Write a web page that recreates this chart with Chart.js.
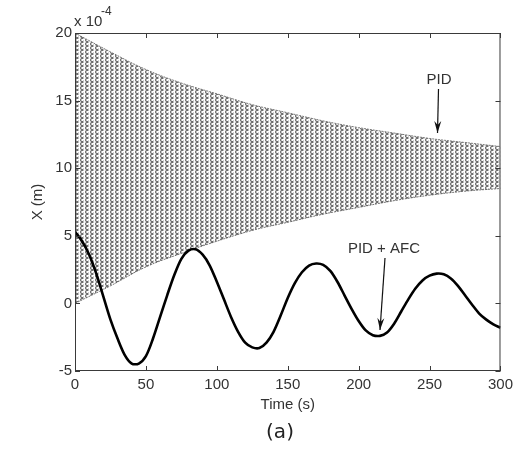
<!DOCTYPE html>
<html>
<head>
<meta charset="utf-8">
<script src="https://cdn.jsdelivr.net/npm/chart.js@4"></script>
<style>
  html, body { margin: 0; padding: 0; background: #fff; }
  #c { display: block; }
</style>
</head>
<body>
<canvas id="c" width="518" height="449"></canvas>
<script>
// data (values in units of 1e-4 m)
const envTime = [0, 25, 50, 75, 100, 125, 150, 175, 200, 225, 250, 275, 300];
const pidUpper = [20.0, 18.6, 17.3, 16.3, 15.5, 14.7, 14.1, 13.5, 13.0, 12.6, 12.2, 11.9, 11.6];
const pidLower = [0.0, 1.3, 2.7, 3.7, 4.6, 5.4, 6.0, 6.6, 7.1, 7.6, 8.0, 8.3, 8.5];

const afcTime = [0, 5, 10, 15, 20, 25, 30, 35, 40, 45, 50, 55, 60, 65, 70, 75, 80, 85, 90, 95,
                 100, 105, 110, 115, 120, 125, 130, 135, 140, 145, 150, 155, 160, 165, 170, 175, 180, 185, 190, 195,
                 200, 205, 210, 215, 220, 225, 230, 235, 240, 245, 250, 255, 260, 265, 270, 275, 280, 285, 290, 295, 300];
const afcValue = [5.3, 4.6, 3.6, 2.2, 0.5, -1.2, -2.6, -3.8, -4.45, -4.45, -3.9, -2.6, -1.0, 0.6, 2.1, 3.3, 3.9, 4.0, 3.6, 2.8,
                  1.6, 0.3, -1.0, -2.1, -2.9, -3.25, -3.3, -2.9, -2.1, -0.9, 0.4, 1.5, 2.3, 2.8, 2.95, 2.85, 2.4, 1.6, 0.6, -0.4,
                  -1.3, -2.0, -2.35, -2.4, -2.15, -1.5, -0.6, 0.3, 1.1, 1.7, 2.05, 2.2, 2.15, 1.85, 1.3, 0.6, -0.1, -0.75, -1.2, -1.55, -1.8];

const xTicks = [0, 50, 100, 150, 200, 250, 300];
const yTicks = [-5, 0, 5, 10, 15, 20];

// ====================================
// HATCH PATTERN FOR THE PID BAND
// ====================================

const pc = document.createElement("canvas");
pc.width = 5;
pc.height = 4;
const pctx = pc.getContext("2d");
pctx.strokeStyle = "#555";
pctx.lineWidth = 1.1;
pctx.beginPath();
pctx.moveTo(0, 0.5);
pctx.lineTo(3, 2);
pctx.lineTo(0, 3.5);
pctx.stroke();
pctx.fillStyle = "rgba(120,120,120,0.35)";
pctx.fillRect(3, 0, 1, 1);
const hatch = document.getElementById("c").getContext("2d").createPattern(pc, "repeat");

const textFont = "'Liberation Sans', Arial, sans-serif";

// ====================================
// BOX, INWARD TICKS, ANNOTATIONS
// ====================================

const decor = {
    id: "decor",
    afterDraw(chart) {
        const ctx = chart.ctx;
        const a = chart.chartArea;
        const xs = chart.scales.x;
        const ys = chart.scales.y;

        ctx.save();
        ctx.strokeStyle = "#3a3a3a";
        ctx.lineWidth = 1;
        ctx.strokeRect(a.left + 0.5, a.top + 0.5, a.right - a.left - 1, a.bottom - a.top - 1);

        ctx.beginPath();
        xTicks.forEach(v => {
            const px = Math.round(xs.getPixelForValue(v)) + 0.5;
            ctx.moveTo(px, a.bottom); ctx.lineTo(px, a.bottom - 5);
            ctx.moveTo(px, a.top); ctx.lineTo(px, a.top + 5);
        });
        yTicks.forEach(v => {
            const py = Math.round(ys.getPixelForValue(v)) + 0.5;
            ctx.moveTo(a.left, py); ctx.lineTo(a.left + 5, py);
            ctx.moveTo(a.right, py); ctx.lineTo(a.right - 5, py);
        });
        ctx.stroke();

        // exponent
        ctx.fillStyle = "#333";
        ctx.textBaseline = "alphabetic";
        ctx.textAlign = "left";
        ctx.font = "15px " + textFont;
        ctx.fillText("x 10", a.left - 1, 26);
        ctx.font = "12px " + textFont;
        ctx.fillText("-4", a.left + 26, 15);

        // labels and arrows
        ctx.font = "15px " + textFont;
        ctx.textAlign = "center";
        ctx.textBaseline = "middle";
        ctx.fillText("PID", 439, 80);
        ctx.fillText("PID + AFC", 384, 249);

        const arrow = (x1, y1, x2, y2) => {
            ctx.strokeStyle = "#111";
            ctx.fillStyle = "#111";
            ctx.lineWidth = 1.2;
            ctx.beginPath();
            ctx.moveTo(x1, y1);
            ctx.lineTo(x2, y2);
            ctx.stroke();
            const ang = Math.atan2(y2 - y1, x2 - x1);
            ctx.beginPath();
            ctx.moveTo(x2, y2);
            ctx.lineTo(x2 - 12 * Math.cos(ang) + 3.5 * Math.sin(ang), y2 - 12 * Math.sin(ang) - 3.5 * Math.cos(ang));
            ctx.lineTo(x2 - 8 * Math.cos(ang), y2 - 8 * Math.sin(ang));
            ctx.lineTo(x2 - 12 * Math.cos(ang) - 3.5 * Math.sin(ang), y2 - 12 * Math.sin(ang) + 3.5 * Math.cos(ang));
            ctx.closePath();
            ctx.fill();
        };
        arrow(438.5, 89, 437.5, 133);
        arrow(385, 258, 380, 330);

        // panel label
        ctx.fillStyle = "#222";
        ctx.font = "20px 'DejaVu Sans', sans-serif";
        ctx.fillText("(a)", 280, 433);
        ctx.restore();
    }
};

// ====================================
// CHART
// ====================================

const toPts = (t, v) => t.map((x, i) => ({ x: x, y: v[i] }));

new Chart(document.getElementById("c"), {
    type: "line",
    data: {
        datasets: [
            {
                label: "PID upper",
                data: toPts(envTime, pidUpper),
                borderColor: "#777",
                borderWidth: 1,
                borderDash: [2, 1],
                backgroundColor: hatch,
                fill: "+1",
                pointRadius: 0,
                tension: 0.4,
                order: 2
            },
            {
                label: "PID lower",
                data: toPts(envTime, pidLower),
                borderColor: "#777",
                borderWidth: 1,
                borderDash: [2, 1],
                fill: false,
                pointRadius: 0,
                tension: 0.4,
                order: 2
            },
            {
                label: "PID + AFC",
                data: toPts(afcTime, afcValue),
                borderColor: "#000",
                borderWidth: 2.6,
                fill: false,
                pointRadius: 0,
                tension: 0.3,
                order: 0
            }
        ]
    },
    options: {
        responsive: false,
        animation: false,
        layout: { padding: { left: 0, top: 33, right: 13, bottom: 0 } },
        plugins: {
            legend: { display: false },
            tooltip: { enabled: false }
        },
        scales: {
            x: {
                type: "linear",
                min: 0,
                max: 300,
                afterBuildTicks: s => { s.ticks = xTicks.map(v => ({ value: v })); },
                afterFit: s => { s.height = 78; },
                grid: { display: false, drawTicks: false },
                border: { display: false },
                ticks: { color: "#333", padding: 5, maxRotation: 0, font: { family: textFont, size: 15 } },
                title: {
                    display: true,
                    text: "Time (s)",
                    color: "#333",
                    padding: { top: 0, bottom: 35 },
                    font: { family: textFont, size: 15 }
                }
            },
            y: {
                type: "linear",
                min: -5,
                max: 20,
                afterBuildTicks: s => { s.ticks = yTicks.map(v => ({ value: v })); },
                afterFit: s => { s.width = 75; },
                grid: { display: false, drawTicks: false },
                border: { display: false },
                ticks: { color: "#333", padding: 3, font: { family: textFont, size: 15 } },
                title: {
                    display: true,
                    text: "X (m)",
                    color: "#333",
                    padding: { top: 29, bottom: 0 },
                    font: { family: textFont, size: 15 }
                }
            }
        }
    },
    plugins: [decor]
});
</script>
</body>
</html>
